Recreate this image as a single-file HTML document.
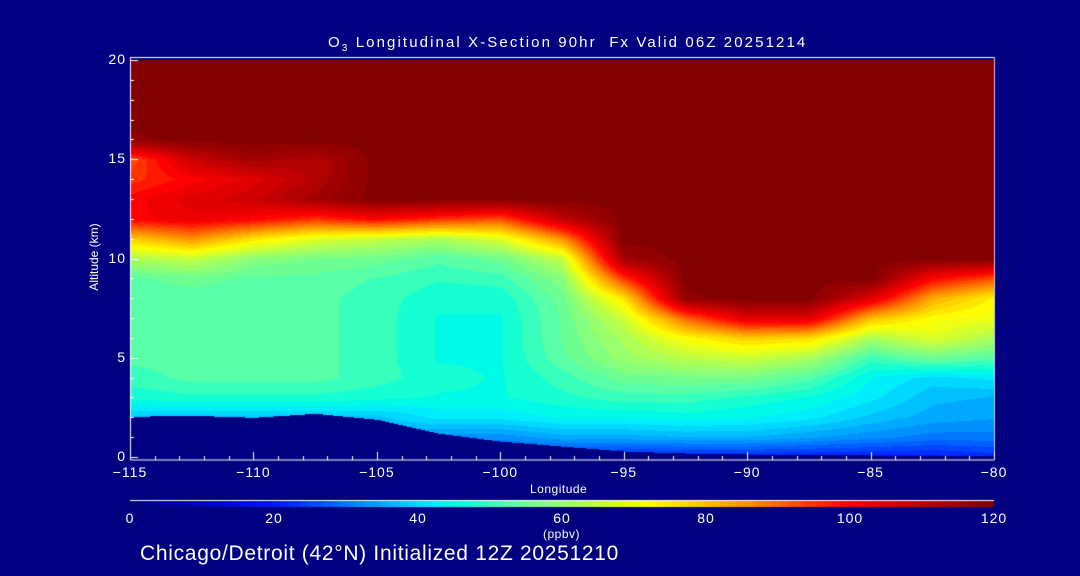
<!DOCTYPE html>
<html><head><meta charset="utf-8"><style>
html,body{margin:0;padding:0;background:#000080;}
#wrap{position:relative;width:1080px;height:576px;background:#000080;overflow:hidden;font-family:"Liberation Sans",sans-serif;color:#fff;}
canvas{position:absolute;left:0;top:0;}
.t{position:absolute;white-space:nowrap;color:#fff;}
</style></head><body>
<div id="wrap">
<canvas id="c" width="1080" height="576"></canvas>
<div class="t" style="left:328px;top:34px;font-size:15px;letter-spacing:2.1px">O<sub style="font-size:10px">3</sub> Longitudinal X-Section 90hr&nbsp; Fx Valid 06Z 20251214</div>
<div class="t" style="left:44px;top:250px;font-size:12px;transform:rotate(-90deg);transform-origin:center;width:100px;text-align:center">Altitude (km)</div>
<div class="t" style="left:530px;top:482px;font-size:12px;letter-spacing:0.5px">Longitude</div>
<div class="t" style="left:543px;top:527px;font-size:12px;letter-spacing:0.5px">(ppbv)</div>
<div class="t" style="left:140px;top:542px;font-size:21px;letter-spacing:0.7px">Chicago/Detroit (42°N) Initialized 12Z 20251210</div>
<div id="labels"></div>
</div>
<script>
// ---- data ----
const lons = [-115,-112.5,-110,-107.5,-105,-102.5,-100,-97.5,-95,-92.5,-90,-87.5,-85,-82.5,-80];
const alts = [0,1,2,3,4,5,6,7,8,9,10,11,12,13,14,15,16,17,18,19,20];
const groundAlt = [2.05,2.1,2.0,2.2,1.9,1.2,0.8,0.55,0.3,0.2,0.15,0.15,0.1,0.1,0.1];
const ozone = [
 [38,38,38,47,50,52,52,52,52,53,62,78,100,100,95,92,118,120,120,120,120],
 [38,38,38,48,52,52,52,52,52,55,65,85,103,105,100,108,120,120,120,120,120],
 [38,38,38,48,52,52,52,52,52,53,58,75,100,108,105,115,120,120,120,120,120],
 [38,38,38,48,52,52,52,52,52,53,56,68,95,115,112,112,120,120,120,120,120],
 [35,35,38,47,50,50,50,50,50,51,55,65,100,120,120,120,120,120,120,120,120],
 [30,32,42,46,47,46,46,46,47,49,52,62,95,120,120,120,120,120,120,120,120],
 [25,32,42,46,46,46,46,46,47,50,55,68,92,120,120,120,120,120,120,120,120],
 [22,35,44,48,50,53,54,54,55,58,65,85,110,120,120,120,120,120,120,120,120],
 [20,35,44,50,55,60,62,66,75,95,115,120,120,120,120,120,120,120,120,120,120],
 [20,36,45,50,56,64,72,90,118,120,120,120,120,120,120,120,120,120,120,120,120],
 [20,36,44,48,56,66,78,105,120,120,120,120,120,120,120,120,120,120,120,120,120],
 [20,34,42,46,52,62,76,105,120,120,120,120,120,120,120,120,120,120,120,120,120],
 [20,32,38,42,44,50,62,80,105,120,120,120,120,120,120,120,120,120,120,120,120],
 [20,30,35,37,40,55,68,72,82,100,120,120,120,120,120,120,120,120,120,120,120],
 [22,30,34,36,42,52,62,70,73,92,120,120,120,120,120,120,120,120,120,120,120]
];
const xTicks = [-115,-110,-105,-100,-95,-90,-85,-80];
const yTicks = [0,5,10,15,20];
const cbTicks = [0,20,40,60,80,100,120];
const cmapVals = [0,8,20,32,42,46,52,62,72,86,100,120];
const cmapCols = [[0,0,120],[0,0,170],[0,20,255],[0,140,255],[0,235,255],[0,255,225],[85,255,170],[170,255,90],[255,255,0],[255,140,0],[255,0,0],[130,0,0]];

// ---- axes ----
const X0=130,X1=994,YT=60,YB=457;
const xs = lon => X0+(lon+115)/35*(X1-X0);
const ys = a => YB-a/20*(YB-YT);
function cmap(v){
  v=Math.max(0,Math.min(120,v));
  for(let i=1;i<cmapVals.length;i++){ if(v<=cmapVals[i]){const f=(v-cmapVals[i-1])/(cmapVals[i]-cmapVals[i-1]);const a=cmapCols[i-1],b=cmapCols[i];return [a[0]+(b[0]-a[0])*f,a[1]+(b[1]-a[1])*f,a[2]+(b[2]-a[2])*f];}}
  return cmapCols[cmapCols.length-1];
}
function field(lon,alt){
  let fi=(lon-lons[0])/2.5; fi=Math.max(0,Math.min(lons.length-1.0001,fi));
  const i=Math.floor(fi),fx=fi-i;
  const g=groundAlt[i]*(1-fx)+groundAlt[i+1]*fx;
  if(alt<g) return 0;
  let fj=Math.max(0,Math.min(alts.length-1.0001,alt)); const j=Math.floor(fj),fy=fj-j;
  return ozone[i][j]*(1-fx)*(1-fy)+ozone[i+1][j]*fx*(1-fy)+ozone[i][j+1]*(1-fx)*fy+ozone[i+1][j+1]*fx*fy;
}
const cv=document.getElementById('c'),ctx=cv.getContext('2d');
const img=ctx.createImageData(X1-X0,YB-YT+1);
for(let py=0;py<=YB-YT;py++){
  const alt=(YB-(YT+py))/(YB-YT)*20;
  for(let px=0;px<X1-X0;px++){
    const lon=-115+px/(X1-X0)*35;
    let v=field(lon,alt);
    v=Math.round(v/2.5)*2.5;
    const c=v<=0?[0,0,128]:cmap(v);
    const k=(py*(X1-X0)+px)*4;
    img.data[k]=c[0];img.data[k+1]=c[1];img.data[k+2]=c[2];img.data[k+3]=255;
  }
}
ctx.putImageData(img,X0,YT);
// frame
ctx.strokeStyle='#fff';ctx.lineWidth=1;
ctx.beginPath();ctx.moveTo(X0,57.5);ctx.lineTo(X1,57.5);ctx.stroke();
ctx.beginPath();ctx.moveTo(X0+0.5,57);ctx.lineTo(X0+0.5,460);ctx.lineTo(X1,460);ctx.stroke();
ctx.strokeStyle='#ccc';ctx.beginPath();ctx.moveTo(X1+0.5,57);ctx.lineTo(X1+0.5,460);ctx.stroke();
ctx.strokeStyle='#fff';
for(let l=-115;l<=-80;l++){const x=Math.round(xs(l))+0.5;const len=(l%5===0)?8:4;ctx.beginPath();ctx.moveTo(x,460);ctx.lineTo(x,460-len);ctx.stroke();}
for(let a=0;a<=20;a++){const y=Math.round(ys(a))+0.5;const len=(a%5===0)?8:4;ctx.beginPath();ctx.moveTo(X0,y);ctx.lineTo(X0+len,y);ctx.stroke();}
// colorbar
ctx.beginPath();ctx.moveTo(130,500.5);ctx.lineTo(994,500.5);ctx.stroke();
for(let px=0;px<864;px++){const c=cmap(px/864*120);ctx.fillStyle=`rgb(${c[0]|0},${c[1]|0},${c[2]|0})`;ctx.fillRect(130+px,501,1,6);}
// labels
const L=document.getElementById('labels');
function lab(txt,x,y,name,size){const d=document.createElement('div');d.className='t';d.textContent=txt;d.style.fontSize=size+'px';d.style.letterSpacing='1px';d.style.left=x+'px';d.style.top=y+'px';


L.appendChild(d);return d;}
xTicks.forEach(t=>{const d=lab(String(t).replace('-','\u2212'),xs(t),464,'x-tick-label',14);d.style.transform='translateX(-50%)';});
yTicks.forEach(t=>{const d=lab(String(t),126,ys(t)-9,'y-tick-label',14);d.style.transform='translateX(-100%)';});
cbTicks.forEach(t=>{const d=lab(String(t),130+t/120*864,510,'colorbar-tick-label',14);d.style.transform='translateX(-50%)';});
</script>
</body></html>
